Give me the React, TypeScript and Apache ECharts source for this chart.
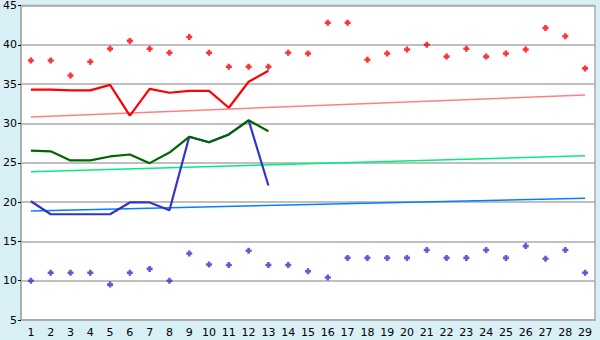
import React, { useEffect, useRef } from "react";
import * as echarts from "echarts";

const categories = Array.from({ length: 29 }, (_, i) => String(i + 1));
const yTicks = [5, 45, 5]; // min, max, interval

const redLine = [34.3, 34.3, 34.2, 34.2, 34.9, 31.0, 34.4, 33.9, 34.15, 34.15, 32.0, 35.3, 36.7];
const greenLine = [26.55, 26.45, 25.3, 25.3, 25.8, 26.05, 24.95, 26.3, 28.3, 27.6, 28.6, 30.4, 29.0];
const blueLine = [20.1, 18.45, 18.45, 18.45, 18.45, 19.95, 19.95, 18.95, 28.3, 27.6, 28.6, 30.4, 22.1];

const redPoints = [38, 38, 36.1, 37.85, 39.5, 40.5, 39.5, 39.0, 41.0, 39.0, 37.2, 37.2, 37.2, 39.0, 38.9,
  42.8, 42.8, 38.1, 38.9, 39.4, 40.0, 38.5, 39.5, 38.5, 38.9, 39.4, 42.15, 41.1, 37.0];
const bluePoints = [10.0, 11.0, 11.0, 11.0, 9.5, 11.0, 11.5, 10.0, 13.45, 12.05, 12.0, 13.8, 12.0, 12.0, 11.2,
  10.4, 12.9, 12.9, 12.9, 12.9, 13.9, 12.9, 12.9, 13.9, 12.9, 14.4, 12.8, 13.9, 11.0];

const pinkTrend = [30.83, 33.61];
const greenTrend = [23.86, 25.88];
const blueTrend = [18.86, 20.5];

const trendData = (ends: number[]) =>
  categories.map((_, i) => (i === 0 ? ends[0] : i === categories.length - 1 ? ends[1] : null));

const plusSymbol = "path://M2,0L5,0L5,2L7,2L7,5L5,5L5,7L2,7L2,5L0,5L0,2L2,2Z";

export default function App() {
  const ref = useRef<HTMLDivElement>(null);
  useEffect(() => {
    if (!ref.current) return;
    const chart = echarts.init(ref.current, undefined, { renderer: "svg" });
    const font = { fontFamily: "DejaVu Sans", fontSize: 11, color: "#000" };
    chart.setOption({
      animation: false,
      backgroundColor: "#d9eff6",
      grid: {
        left: 19.5,
        right: 5,
        top: 5,
        bottom: 20,
        show: true,
        backgroundColor: "#ffffff",
        borderColor: "#aaaaaa",
        borderWidth: 1.5,
      },
      xAxis: {
        type: "category",
        data: categories,
        boundaryGap: true,
        axisLine: { lineStyle: { color: "#aaaaaa", width: 1.5 } },
        axisTick: { alignWithLabel: true, length: 5, lineStyle: { color: "#000" } },
        axisLabel: { ...font, margin: 7, interval: 0 },
        splitLine: { show: false },
      },
      yAxis: {
        type: "value",
        min: yTicks[0],
        max: yTicks[1],
        interval: yTicks[2],
        axisLine: { show: true, lineStyle: { color: "#aaaaaa", width: 1.5 } },
        axisTick: { show: true, length: 3, lineStyle: { color: "#000" } },
        axisLabel: { ...font, margin: 4 },
        splitLine: { lineStyle: { color: "#aaaaaa", width: 1.5 } },
      },
      series: [
        { type: "line", data: trendData(pinkTrend), connectNulls: true, symbol: "none", lineStyle: { color: "#ff8080", width: 1.5 }, z: 2 },
        { type: "line", data: trendData(greenTrend), connectNulls: true, symbol: "none", lineStyle: { color: "#00ee80", width: 1.5 }, z: 2 },
        { type: "line", data: trendData(blueTrend), connectNulls: true, symbol: "none", lineStyle: { color: "#0080ff", width: 1.5 }, z: 2 },
        { type: "line", data: blueLine, symbol: "none", lineStyle: { color: "#3333cc", width: 2.2 }, z: 3 },
        { type: "line", data: greenLine, symbol: "none", lineStyle: { color: "#006600", width: 2.2 }, z: 4 },
        { type: "line", data: redLine, symbol: "none", lineStyle: { color: "#ff0000", width: 2.2 }, z: 4 },
        { type: "scatter", data: redPoints, symbol: plusSymbol, symbolSize: 6, itemStyle: { color: "#ff0000" }, z: 5 },
        { type: "scatter", data: bluePoints, symbol: plusSymbol, symbolSize: 6, itemStyle: { color: "#3333cc" }, z: 5 },
      ],
    });
    return () => chart.dispose();
  }, []);
  return <div ref={ref} style={{ position: "fixed", left: 0, top: 0, width: 600, height: 340 }} />;
}
